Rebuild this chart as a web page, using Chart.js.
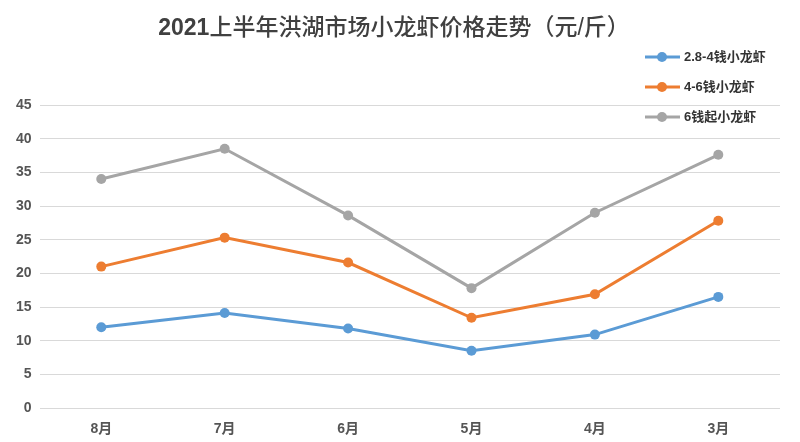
<!DOCTYPE html>
<html>
<head>
<meta charset="utf-8">
<script src="https://cdn.jsdelivr.net/npm/chart.js@4"></script>
<style>
  html, body { margin:0; padding:0; background:#fff; }
  #wrap { width:800px; height:442px; position:relative; }
</style>
</head>
<body>
<div id="wrap"><canvas id="chart" width="800" height="442"></canvas></div>
<script>
const titleYear = '2021';
const titleRest = '上半年洪湖市场小龙虾价格走势（元/斤）';
const months = ['8月','7月','6月','5月','4月','3月'];
const seriesNames = ['2.8-4钱小龙虾','4-6钱小龙虾','6钱起小龙虾'];
const small = [12.0, 14.1, 11.8, 8.5, 10.9, 16.5];
const medium = [21.0, 25.3, 21.6, 13.4, 16.9, 27.8];
const large = [34.0, 38.5, 28.6, 17.8, 29.0, 37.6];
const colors = ['#5b9bd5','#ed7d31','#a5a5a5'];
const yTicks = [0,5,10,15,20,25,30,35,40,45];

const FONT = "'Liberation Sans', 'Noto Sans CJK SC', sans-serif";

// title + vertical legend drawn on the canvas, top right
const decor = {
  id:'decor',
  afterDraw(chart){
    const ctx = chart.ctx;
    ctx.save();
    ctx.fillStyle = '#404040';
    ctx.textBaseline = 'middle';
    ctx.textAlign = 'left';
    const boldF = "bold 23px " + FONT, normF = "500 23px " + FONT;
    ctx.font = boldF; const w1 = ctx.measureText(titleYear).width;
    ctx.font = normF; const w2 = ctx.measureText(titleRest).width;
    const x0 = 394 - (w1 + w2) / 2;
    ctx.font = boldF; ctx.fillText(titleYear, x0, 29);
    ctx.font = normF; ctx.fillText(titleRest, x0 + w1, 29);

    ctx.font = "bold 13px " + FONT;
    chart.data.datasets.forEach((ds, i) => {
      const y = 57 + i*30;
      ctx.strokeStyle = ds.borderColor;
      ctx.lineWidth = 3;
      ctx.beginPath(); ctx.moveTo(645, y); ctx.lineTo(680, y); ctx.stroke();
      ctx.fillStyle = ds.borderColor;
      ctx.beginPath(); ctx.arc(662, y, 5, 0, Math.PI*2); ctx.fill();
      ctx.fillStyle = '#333';
      ctx.fillText(ds.label, 684, y);
    });
    ctx.restore();
  }
};

const dataSets = [small, medium, large].map((d, i) => ({
  label: seriesNames[i],
  data: d,
  borderColor: colors[i],
  backgroundColor: colors[i],
  borderWidth: 3,
  pointRadius: 5,
  pointBorderWidth: 0,
  pointHoverRadius: 5,
  tension: 0
}));

new Chart(document.getElementById('chart'), {
  type:'line',
  data:{ labels: months, datasets: dataSets },
  options:{
    responsive:false,
    animation:false,
    layout:{ padding:{ top:105, left:8, right:20, bottom:0 } },
    plugins:{ legend:{ display:false }, title:{ display:false }, tooltip:{ enabled:false } },
    scales:{
      x:{
        offset:true,
        grid:{ display:false, drawTicks:false },
        border:{ display:false },
        ticks:{ color:'#555', font:{ family:FONT, size:14, weight:'bold' }, padding:13 },
        afterFit(axis){ axis.height = 34; }
      },
      y:{
        min:0, max:45,
        afterBuildTicks(axis){ axis.ticks = yTicks.map(v => ({ value:v })); },
        grid:{ color:'#d9d9d9', lineWidth:1, drawTicks:false },
        border:{ display:false },
        ticks:{ color:'#555', font:{ family:FONT, size:14, weight:'bold' }, padding:8 }
      }
    }
  },
  plugins:[decor]
});
</script>
</body>
</html>
